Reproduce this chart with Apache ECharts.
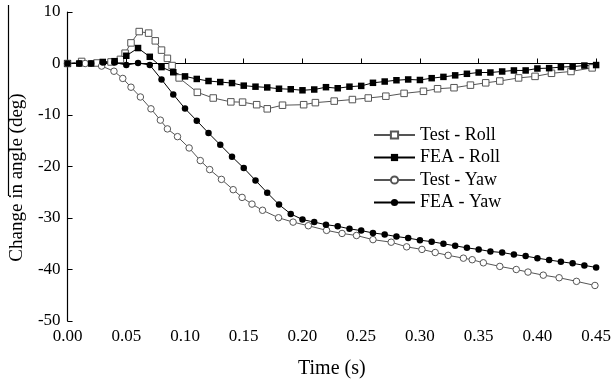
<!DOCTYPE html>
<html><head><meta charset="utf-8">
<script src="https://cdn.jsdelivr.net/npm/echarts@6/dist/echarts.min.js"></script>
<style>html,body{margin:0;padding:0;background:#fff}#c{width:614px;height:384px}</style>
</head><body><div id="c"></div>
<script>
// Tick labels
const xTicks = ['0.00','0.05','0.10','0.15','0.20','0.25','0.30','0.35','0.40','0.45'];
const yTicks = [10, 0, -10, -20, -30, -40, -50];

// FEA time stamps (s)
const feaTime = [0,0.01,0.02,0.03,0.04,0.05,0.06,0.07,0.08,0.09,0.10,0.11,0.12,0.13,0.14,0.15,0.16,0.17,0.18,0.19,0.20,0.21,0.22,0.23,0.24,0.25,0.26,0.27,0.28,0.29,0.30,0.31,0.32,0.33,0.34,0.35,0.36,0.37,0.38,0.39,0.40,0.41,0.42,0.43,0.44,0.45];
const feaRoll = [0,0,0,0.3,0.45,1.5,3.0,1.3,-0.7,-1.7,-2.5,-3.0,-3.4,-3.6,-3.8,-4.3,-4.5,-4.65,-4.9,-5.0,-5.2,-5.05,-4.6,-4.8,-4.5,-4.35,-3.75,-3.5,-3.25,-3.1,-3.2,-2.85,-2.6,-2.3,-2.0,-1.75,-1.75,-1.55,-1.35,-1.35,-0.97,-0.9,-0.7,-0.6,-0.4,-0.3];
const feaYaw = [0,0,0,0.2,0.2,-0.3,0.1,-0.3,-3.1,-6.0,-8.75,-11.1,-13.5,-15.8,-18.1,-20.3,-22.7,-25.1,-27.4,-29.2,-30.3,-30.8,-31.3,-31.6,-32.1,-32.45,-32.9,-33.2,-33.6,-33.9,-34.3,-34.6,-35.0,-35.4,-35.8,-36.1,-36.5,-36.7,-37.1,-37.4,-37.8,-38.15,-38.5,-38.8,-39.2,-39.6];

// Test - Roll
const testRollTime = [0,0.012,0.025,0.037,0.045,0.049,0.054,0.061,0.069,0.0747,0.080,0.085,0.089,0.095,0.1105,0.124,0.139,0.149,0.161,0.170,0.183,0.201,0.211,0.227,0.2425,0.256,0.271,0.2865,0.303,0.315,0.329,0.343,0.356,0.368,0.384,0.398,0.412,0.4286,0.4466];
const testRoll = [0,0.4,0.1,0.3,0.8,2.0,4.0,6.2,5.9,4.4,2.6,1.0,-0.4,-2.8,-5.6,-6.7,-7.45,-7.5,-8.0,-8.8,-8.1,-8.0,-7.6,-7.3,-7.0,-6.7,-6.35,-5.8,-5.4,-4.9,-4.7,-4.2,-3.75,-3.4,-2.8,-2.5,-1.9,-1.55,-0.85];

// Test - Yaw
const testYawTime = [0,0.015,0.029,0.0395,0.047,0.054,0.062,0.071,0.079,0.085,0.0936,0.1035,0.113,0.121,0.131,0.141,0.1486,0.157,0.166,0.1796,0.192,0.205,0.2205,0.2337,0.246,0.26,0.2755,0.2887,0.3017,0.313,0.324,0.337,0.3445,0.354,0.368,0.382,0.392,0.405,0.4185,0.4333,0.449];
const testYaw = [0,0,-0.5,-1.5,-2.9,-4.6,-6.5,-8.8,-11.0,-12.7,-14.2,-16.4,-18.85,-20.6,-22.5,-24.5,-26.0,-27.3,-28.5,-29.95,-30.8,-31.5,-32.4,-33.0,-33.4,-34.2,-34.7,-35.6,-36.1,-36.7,-37.25,-37.8,-38.1,-38.7,-39.4,-40.0,-40.5,-41.1,-41.6,-42.3,-43.1];

const seriesNames = ['Test - Roll','FEA - Roll','Test - Yaw','FEA - Yaw'];

function pairs(t, v) { return t.map((x, i) => [x, v[i]]); }

const FONT = 'Liberation Serif';
const chart = echarts.init(document.getElementById('c'), null, {renderer: 'canvas'});

function mk(name, data, symbol, filled, lineColor) {
  return {
    name: name, type: 'line', data: data, symbol: symbol, symbolSize: 6.5,
    showAllSymbol: true, smooth: false,
    lineStyle: {color: lineColor, width: 1},
    itemStyle: filled ? {color: '#000', borderColor: '#000', borderWidth: 0}
                      : {color: '#fff', borderColor: '#555', borderWidth: 1},
    emphasis: {disabled: true}
  };
}

chart.setOption({
  animation: false,
  backgroundColor: '#fff',
  grid: {left: 66, right: 16, top: 12, bottom: 63, containLabel: false},
  xAxis: {
    type: 'value', min: 0, max: 0.45, interval: 0.05,
    name: 'Time (s)', nameLocation: 'middle', nameGap: 38,
    nameTextStyle: {fontFamily: FONT, fontSize: 20, color: '#000'},
    axisLine: {lineStyle: {color: '#000', width: 1.2}},
    axisTick: {inside: true, length: 5, lineStyle: {color: '#000'}},
    axisLabel: {fontFamily: FONT, fontSize: 17, color: '#000', margin: 7,
      formatter: v => xTicks[Math.round(v / 0.05)]},
    splitLine: {show: false}
  },
  yAxis: {
    type: 'value', min: -50, max: 10, interval: 10,
    name: 'Change in angle (deg)', nameLocation: 'middle', nameGap: 40,
    nameTextStyle: {fontFamily: FONT, fontSize: 19, color: '#000', padding: [0, 22, 0, 0]},
    axisLine: {lineStyle: {color: '#000', width: 1.2}},
    axisTick: {inside: true, length: 5, lineStyle: {color: '#000'}},
    axisLabel: {fontFamily: FONT, fontSize: 17, color: '#000', margin: 7,
      formatter: v => String(yTicks[yTicks.indexOf(v)])},
    splitLine: {show: false}
  },
  legend: {
    left: 373, top: 126, orient: 'vertical', padding: 0,
    itemWidth: 41, itemHeight: 9, itemGap: 4.5,
    textStyle: {fontFamily: FONT, fontSize: 18, color: '#000'},
    data: seriesNames
  },
  graphic: [{type: 'line', shape: {x1: 8.5, y1: 5, x2: 8.5, y2: 196}, style: {stroke: '#000', lineWidth: 1.2}}],
  series: [
    mk(seriesNames[0], pairs(testRollTime, testRoll), 'rect', false, '#555'),
    mk(seriesNames[1], pairs(feaTime, feaRoll), 'rect', true, '#000'),
    mk(seriesNames[2], pairs(testYawTime, testYaw), 'circle', false, '#555'),
    mk(seriesNames[3], pairs(feaTime, feaYaw), 'circle', true, '#000')
  ]
});
</script></body></html>
